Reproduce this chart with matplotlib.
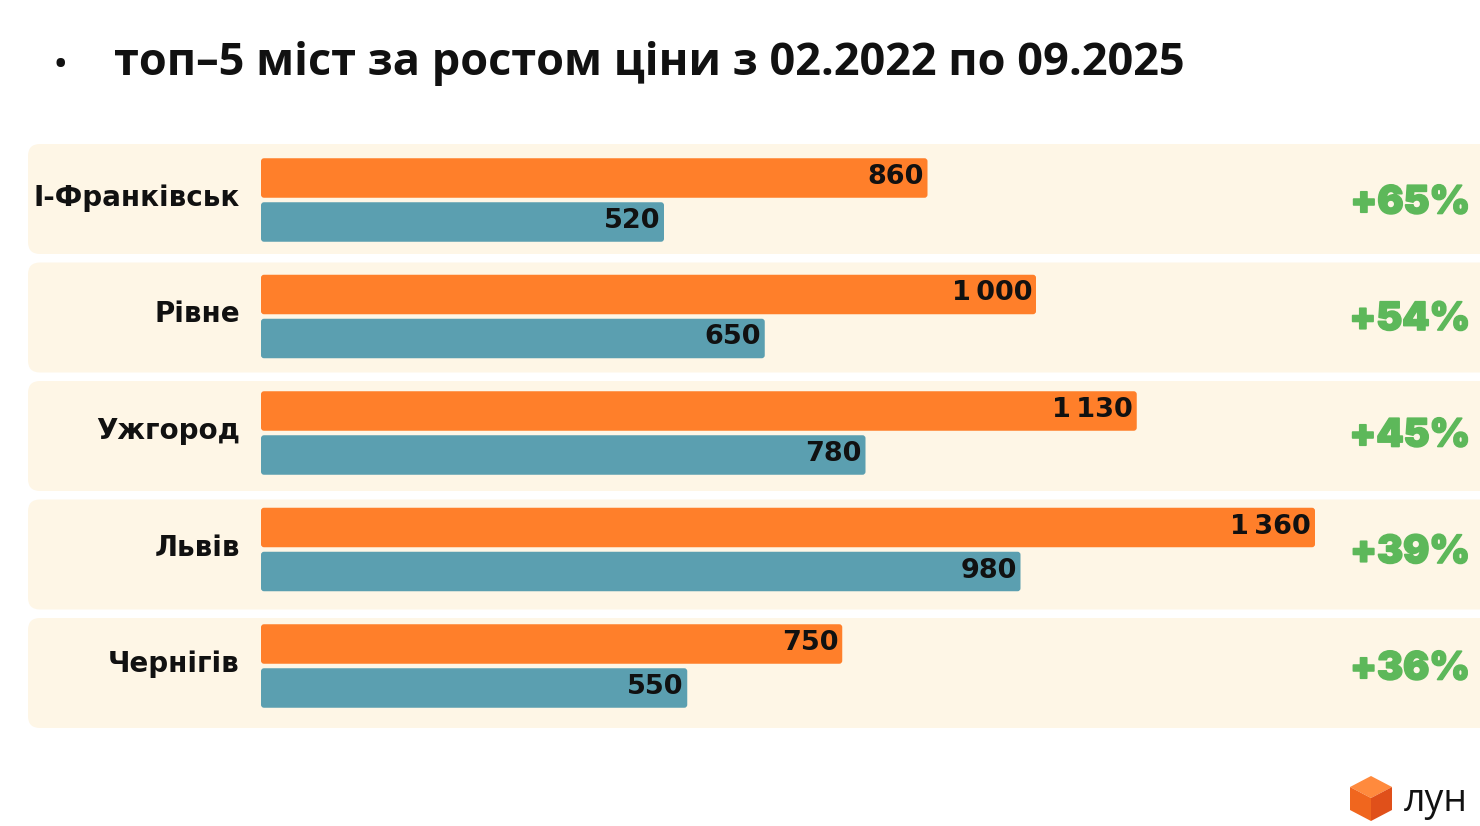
import matplotlib
matplotlib.use("Agg")
import matplotlib.pyplot as plt
import matplotlib.patheffects as pe
from matplotlib.patches import FancyBboxPatch, Polygon

# data
cities = ["І-Франківськ", "Рівне", "Ужгород", "Львів", "Чернігів"]
price_2025 = [860, 1000, 1130, 1360, 750]
price_2022 = [520, 650, 780, 980, 550]
growth = ["+65%", "+54%", "+45%", "+39%", "+36%"]
title = "топ–5 міст за ростом ціни з 02.2022 по 09.2025"

ORANGE = "#FF7F2A"
BLUE = "#5B9FB0"
ROW_BG = "#FEF6E6"
GREEN = "#5DB85A"
FONT = ["Open Sans", "DejaVu Sans"]
WIDE = ["DejaVu Sans"]
HEAVY = ["Inter", "DejaVu Sans"]

W, H = 1480, 826
X0 = 261        # pixel where value 0 sits
PX_PER_UNIT = 0.775
ROW0 = 200      # pixel centre of first bar pair
ROW_STEP = 116.5
BG_TOP0 = 144
BG_STEP = 118.5

fig = plt.figure(figsize=(W / 100, H / 100), dpi=100)
ax = fig.add_axes([0, 0, 1, 1])
ax.set_xlim(-X0 / PX_PER_UNIT, (W - X0) / PX_PER_UNIT)
ax.set_ylim((H - ROW0) / ROW_STEP, -ROW0 / ROW_STEP)
ax.axis("off")

def fmt(v):
    return f"{v:,}".replace(",", "\u2009")

def py(p):
    # pixel offset -> y data units
    return p / ROW_STEP

aspect = (1 / ROW_STEP) / (1 / PX_PER_UNIT)
bar_h = py(39.5)
off_o = py(-22)
off_b = py(22)

for i, city in enumerate(cities):
    # row background
    bx = (28 - X0) / PX_PER_UNIT
    by = py(BG_TOP0 + i * BG_STEP - ROW0)
    bg = FancyBboxPatch((bx, by), (W + 30 - 28) / PX_PER_UNIT, py(110),
                        boxstyle=f"round,pad=0,rounding_size={12 / PX_PER_UNIT}",
                        mutation_aspect=aspect, fc=ROW_BG, ec="none", zorder=0)
    ax.add_patch(bg)

    for val, off, col in [(price_2025[i], off_o, ORANGE), (price_2022[i], off_b, BLUE)]:
        bar = FancyBboxPatch((0, i + off - bar_h / 2), val, bar_h,
                             boxstyle=f"round,pad=0,rounding_size={3 / PX_PER_UNIT}",
                             mutation_aspect=aspect, fc=col, ec="none", zorder=2)
        ax.add_patch(bar)
        ax.text(val - 4 / PX_PER_UNIT, i + off - py(1), fmt(val), ha="right", va="center",
                fontsize=19.5, fontweight="bold", family=WIDE, color="#111111", zorder=3)

    ax.text(-21 / PX_PER_UNIT, i - py(2), city, ha="right", va="center",
            fontsize=20, fontweight="bold", family=WIDE, color="#111111")
    ax.text((1470 - X0) / PX_PER_UNIT, i + py(3), growth[i], ha="right", va="center",
            fontsize=28, fontweight="black", family=HEAVY, color=GREEN,
            path_effects=[pe.withStroke(linewidth=1.2, foreground=GREEN)])

# title
fig.text(55 / W, 1 - 65 / H, "•", fontsize=22, fontweight="bold", family=FONT,
         ha="left", va="center", color="#111111")
fig.text(114 / W, 1 - 64 / H, title, fontsize=32.5, fontweight="bold", family=FONT,
         ha="left", va="center", color="#111111")

# logo
def px(x, y):
    return (x / W, 1 - y / H)

top = [px(1350, 787), px(1371, 776), px(1392, 787), px(1371, 798)]
left = [px(1350, 787), px(1371, 798), px(1371, 821), px(1350, 810)]
right = [px(1371, 798), px(1392, 787), px(1392, 810), px(1371, 821)]
for pts, c in [(top, "#FF8A3D"), (left, "#F0661E"), (right, "#E0501A")]:
    fig.patches.append(Polygon(pts, closed=True, fc=c, ec="none", transform=fig.transFigure))
fig.text(1404 / W, 1 - 801 / H, "лун", fontsize=27, family=FONT, ha="left", va="center",
         color="#111111")

fig.savefig("out.png", dpi=100, facecolor="white")
